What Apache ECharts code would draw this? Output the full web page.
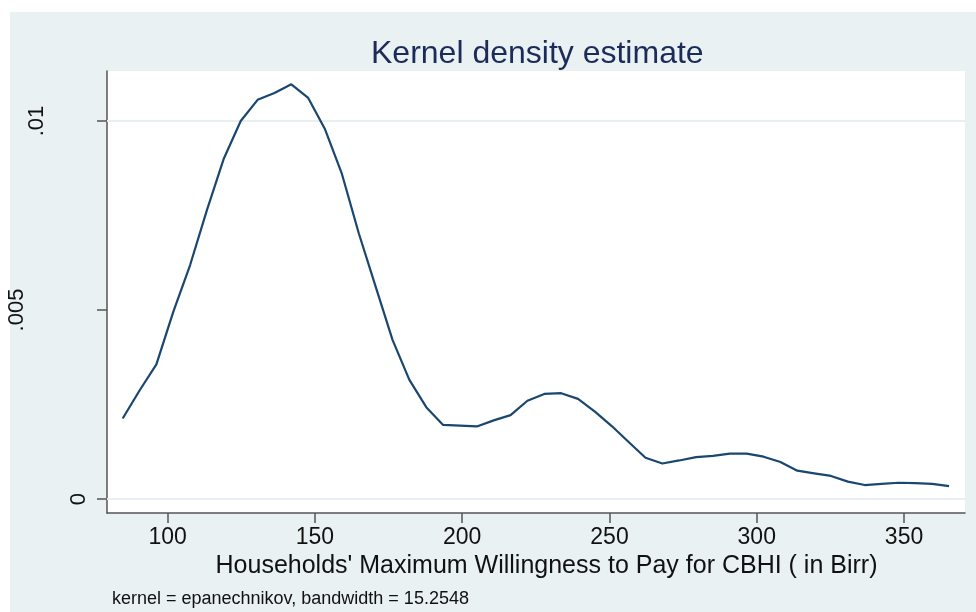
<!DOCTYPE html>
<html>
<head>
<meta charset="utf-8">
<script src="https://cdn.jsdelivr.net/npm/echarts@6/dist/echarts.min.js"></script>
<style>
  html, body { margin: 0; padding: 0; background: #ffffff; width: 976px; height: 612px; overflow: hidden; }
  #bg { position: absolute; left: 10px; top: 12px; width: 966px; height: 600px; background: #E9F1F3; }
  #chart { position: absolute; left: 0; top: 0; width: 976px; height: 612px; }
</style>
</head>
<body>
<div id="bg"></div>
<div id="chart"></div>
<script>
// Evaluation points (Birr)
const xValues = [84.72, 90.45, 96.17, 101.90, 107.62, 113.35, 119.08, 124.80, 130.53, 136.25,
  141.98, 147.71, 153.43, 159.16, 164.88, 170.61, 176.34, 182.06, 187.79, 193.51,
  199.24, 204.97, 210.69, 216.42, 222.14, 227.87, 233.60, 239.32, 245.05, 250.77,
  256.50, 262.23, 267.95, 273.68, 279.40, 285.13, 290.86, 296.58, 302.31, 308.03,
  313.76, 319.49, 325.21, 330.94, 336.66, 342.39, 348.12, 353.84, 359.57, 365.29];
// Estimated density
const density = [0.00213, 0.00287, 0.00356, 0.00495, 0.00619, 0.00765, 0.00901, 0.01000, 0.01056, 0.01074,
  0.01097, 0.01061, 0.00978, 0.00860, 0.00703, 0.00562, 0.00421, 0.00315, 0.00243, 0.00196,
  0.00194, 0.00192, 0.00208, 0.00222, 0.00260, 0.00278, 0.00280, 0.00265, 0.00231, 0.00193,
  0.00151, 0.00109, 0.00094, 0.00102, 0.00111, 0.00114, 0.00120, 0.00120, 0.00112, 0.00098,
  0.00075, 0.00068, 0.00061, 0.00046, 0.00037, 0.00040, 0.00043, 0.00042, 0.00040, 0.00034];
const xTicks = [100, 150, 200, 250, 300, 350];
const yTicks = [0, 0.005, 0.01];
const yTickLabels = ['0', '.005', '.01'];
const titleText = 'Kernel density estimate';
const xAxisTitle = "Households' Maximum Willingness to Pay for CBHI ( in Birr)";
const noteText = 'kernel = epanechnikov, bandwidth = 15.2548';

const FONT = "'Liberation Sans', Arial, sans-serif";
const chart = echarts.init(document.getElementById('chart'), null, { renderer: 'canvas' });

const seriesData = xValues.map((x, i) => [x, density[i]]);
const richKeys = ['z', 'h', 'o'];

chart.setOption({
  animation: false,
  backgroundColor: 'transparent',
  title: [
    {
      text: titleText, left: 371, top: 38, padding: 0,
      textStyle: { fontFamily: FONT, fontSize: 32, fontWeight: 'normal', color: '#1C2B57' }
    },
    {
      text: noteText, left: 112, top: 590, padding: 0,
      textStyle: { fontFamily: FONT, fontSize: 18, fontWeight: 'normal', color: '#111111' }
    }
  ],
  grid: {
    left: 107, top: 71, right: 11, bottom: 99,
    containLabel: false, outerBoundsMode: 'none',
    show: true, backgroundColor: '#ffffff', borderWidth: 0
  },
  xAxis: {
    type: 'value', min: 79.4, max: 370.7,
    name: xAxisTitle, nameLocation: 'middle', nameGap: 41,
    nameTextStyle: { fontFamily: FONT, fontSize: 25, color: '#111111', padding: [0, 0, 0, 21] },
    axisLine: { show: true, onZero: false, lineStyle: { color: '#555555', width: 1.5 } },
    axisTick: { show: true, length: 10, customValues: xTicks, lineStyle: { color: '#555555', width: 1.5 } },
    axisLabel: { customValues: xTicks, margin: 13, fontFamily: FONT, fontSize: 23, color: '#111111' },
    splitLine: { show: false }
  },
  yAxis: {
    type: 'value', min: -0.00037, max: 0.011323,
    axisLine: { show: true, onZero: false, lineStyle: { color: '#555555', width: 1.5 } },
    axisTick: { show: true, length: 10, customValues: yTicks, lineStyle: { color: '#555555', width: 1.5 } },
    axisLabel: {
      customValues: yTicks, rotate: 90, margin: 17,
      fontFamily: FONT, fontSize: 22, color: '#111111',
      formatter: function (v) {
        let idx = 0;
        for (let i = 0; i < yTicks.length; i++) if (Math.abs(v - yTicks[i]) < 1e-9) idx = i;
        return '{' + richKeys[idx] + '|' + yTickLabels[idx] + '}';
      },
      rich: {
        z: { fontFamily: FONT, fontSize: 22, color: '#111111', padding: [0, 0, 0, 0] },
        h: { fontFamily: FONT, fontSize: 22, color: '#111111', padding: [0, 0, 62, 0] },
        o: { fontFamily: FONT, fontSize: 22, color: '#111111', padding: [0, 0, 42, 0] }
      }
    },
    splitLine: { show: false }
  },
  series: [{
    type: 'line',
    data: seriesData,
    showSymbol: false,
    symbol: 'none',
    smooth: false,
    lineStyle: { color: '#1A476F', width: 2.2 },
    z: 5,
    markLine: {
      silent: true, symbol: ['none', 'none'], label: { show: false },
      lineStyle: { color: '#E6EFF2', width: 2, type: 'solid' },
      emphasis: { disabled: true },
      data: yTicks.map(v => ({ yAxis: v }))
    }
  }]
});
</script>
</body>
</html>
